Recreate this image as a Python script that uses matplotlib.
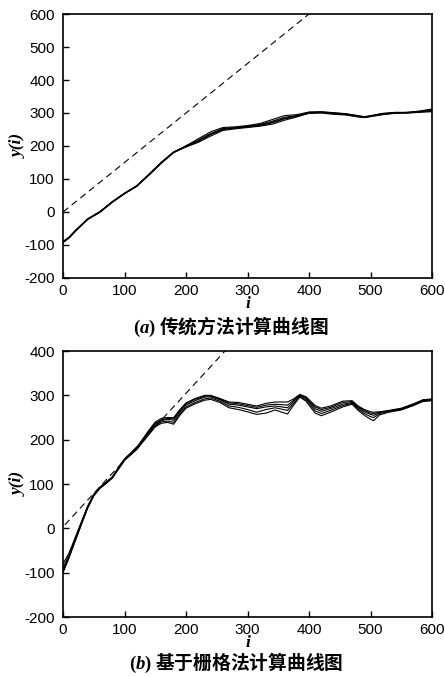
import numpy as np
import matplotlib.pyplot as plt

plt.rcParams['font.family'] = ['Liberation Sans', 'DejaVu Sans']
plt.rcParams['mathtext.fontset'] = 'custom'
plt.rcParams['mathtext.rm'] = 'Liberation Serif:bold'
plt.rcParams['mathtext.it'] = 'Liberation Serif:bold:italic'

# ==========================================================
# Données
# ==========================================================

# reference line (dashed)
ref_i = [0, 400]
ref_y = [0, 600]
ref_i_b = [3, 270]
ref_y_b = [8, 410]

# (a) traditional method
i_a = [0, 10, 20, 40, 60, 80, 100, 120, 140, 160, 180, 200, 220, 240, 260,
       280, 300, 320, 340, 360, 380, 400, 420, 440, 460, 480, 490, 500, 520,
       540, 560, 580, 600]
ya_1 = [-92, -78, -58, -22, 0, 30, 56, 78, 112, 148, 180, 200, 222, 243, 256,
        258, 262, 268, 280, 292, 295, 303, 303, 300, 297, 291, 288, 291, 298,
        301, 300, 304, 310]
ya_2 = [-90, -76, -56, -21, 1, 31, 57, 79, 114, 150, 181, 201, 218, 238, 252,
        256, 260, 265, 275, 287, 292, 301, 302, 299, 296, 290, 287, 290, 297,
        300, 301, 303, 308]
ya_3 = [-91, -77, -57, -22, 0, 30, 56, 80, 115, 151, 182, 198, 214, 234, 250,
        254, 258, 262, 270, 282, 290, 300, 301, 298, 295, 289, 287, 290, 296,
        300, 302, 305, 306]
ya_4 = [-93, -79, -59, -23, -1, 29, 55, 78, 113, 149, 180, 197, 211, 230, 247,
        252, 256, 260, 266, 278, 288, 299, 300, 296, 294, 288, 286, 289, 295,
        299, 300, 302, 304]
ya_5 = [-89, -77, -57, -21, 1, 31, 57, 79, 114, 150, 182, 199, 216, 236, 253,
        255, 259, 263, 272, 284, 291, 302, 304, 301, 298, 292, 289, 292, 299,
        302, 302, 306, 312]

# (b) grid method
i_b = [0, 10, 20, 30, 40, 50, 60, 70, 80, 90, 100, 120, 140, 150, 160, 170,
       180, 190, 200, 215, 230, 240, 255, 270, 285, 300, 315, 330, 345, 365,
       375, 385, 395, 410, 420, 435, 455, 470, 480, 490, 500, 505, 515, 530,
       550, 570, 585, 600]
yb_1 = [-95, -62, -25, 12, 48, 75, 92, 103, 115, 135, 155, 180, 218, 235, 243,
        246, 244, 262, 278, 288, 296, 297, 290, 280, 278, 274, 270, 274, 276,
        272, 286, 300, 293, 270, 264, 270, 280, 284, 272, 263, 257, 255, 261,
        265, 269, 279, 288, 290]
yb_2 = [-80, -55, -20, 15, 50, 77, 93, 104, 116, 137, 157, 183, 222, 240, 248,
        250, 250, 268, 283, 293, 300, 300, 293, 285, 284, 280, 276, 282, 285,
        285, 292, 302, 297, 277, 271, 276, 287, 288, 276, 268, 263, 262, 263,
        266, 271, 281, 290, 292]
yb_3 = [-98, -64, -27, 10, 46, 74, 91, 102, 114, 134, 154, 179, 215, 232, 240,
        242, 239, 258, 274, 284, 292, 294, 287, 276, 273, 268, 262, 268, 272,
        266, 282, 298, 290, 265, 259, 266, 277, 282, 269, 259, 252, 250, 259,
        264, 268, 278, 287, 289]
yb_4 = [-88, -60, -23, 13, 49, 76, 92, 103, 115, 136, 156, 181, 220, 237, 245,
        248, 247, 265, 281, 291, 298, 299, 292, 283, 281, 277, 273, 278, 280,
        278, 289, 301, 295, 274, 268, 273, 284, 286, 274, 266, 260, 259, 262,
        265, 270, 280, 289, 291]
yb_5 = [-100, -66, -28, 9, 45, 73, 90, 101, 113, 133, 153, 178, 212, 229, 237,
        239, 235, 255, 271, 281, 289, 291, 284, 272, 268, 263, 257, 260, 267,
        258, 278, 296, 287, 260, 254, 262, 274, 280, 266, 255, 246, 243, 256,
        262, 267, 277, 286, 288]

curves_a = [ya_1, ya_2, ya_3, ya_4, ya_5]
curves_b = [yb_1, yb_2, yb_3, yb_4, yb_5]

# ==========================================================
# Figure
# ==========================================================

fig = plt.figure(figsize=(4.45, 6.77), dpi=100)

ax_a = fig.add_axes([0.1416, 0.5894, 0.8292, 0.3899])
ax_b = fig.add_axes([0.1416, 0.0886, 0.8292, 0.3929])

label_font = dict(family=['Liberation Serif', 'DejaVu Serif'],
                  weight='bold', style='italic', fontsize=12.5)
cjk = ['Noto Sans CJK SC', 'DejaVu Sans']


def style_axes(ax, ylim, yticks):
    ax.set_xlim(0, 600)
    ax.set_ylim(*ylim)
    ax.set_xticks(range(0, 601, 100))
    ax.set_yticks(list(yticks))
    ax.set_yticklabels([str(v) for v in yticks])
    ax.tick_params(direction='in', length=4, width=1, labelsize=11,
                   top=False, right=False)
    ax.tick_params(axis='x', pad=4)
    ax.tick_params(axis='y', pad=6)
    for sp in ax.spines.values():
        sp.set_linewidth(1.2)
    ax.set_xlabel('i', labelpad=-1, **label_font)
    ax.set_ylabel('y(i)', labelpad=-2, **label_font)


for y in curves_a:
    ax_a.plot(i_a, y, color='black', linewidth=0.8)
ax_a.plot(ref_i, ref_y, '--', color='black', linewidth=0.8, dashes=(6, 4))
style_axes(ax_a, (-200, 600), range(-200, 601, 100))

for y in curves_b:
    ax_b.plot(i_b, y, color='black', linewidth=0.8)
ax_b.plot(ref_i_b, ref_y_b, '--', color='black', linewidth=0.8, dashes=(6, 4))
style_axes(ax_b, (-200, 400), range(-200, 401, 100))

# captions
for ax, letter, text, xc, yc in [(ax_a, 'a', '传统方法计算曲线图', 0.455, -0.14),
                                 (ax_b, 'b', '基于栅格法计算曲线图', 0.47, -0.128)]:
    ax.text(xc, yc, r'$\mathrm{(}' + letter + r'\mathrm{)}$ ' + text,
            transform=ax.transAxes, ha='center', va='top',
            fontsize=13.5, family=cjk, weight='bold')

fig.savefig('out.png', dpi=100)
